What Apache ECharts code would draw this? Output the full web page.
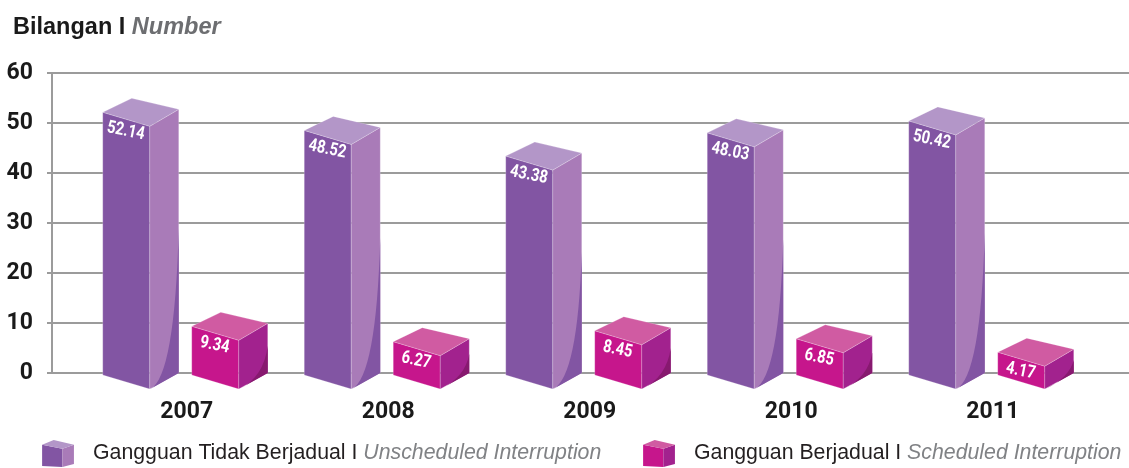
<!DOCTYPE html>
<html>
<head>
<meta charset="utf-8">
<script src="https://cdn.jsdelivr.net/npm/echarts@6/dist/echarts.min.js"></script>
<style>
  html, body { margin: 0; padding: 0; background: #fff; }
  #chart { width: 1129px; height: 468px; }
</style>
</head>
<body>
<div id="chart"></div>
<script>
// data
const years = ['2007', '2008', '2009', '2010', '2011']
const unscheduled = [52.14, 48.52, 43.38, 48.03, 50.42] // Gangguan Tidak Berjadual
const scheduled = [9.34, 6.27, 8.45, 6.85, 4.17] // Gangguan Berjadual
const yMin = 0
const yMax = 60
const yStep = 10

const numFont = 'Roboto, "DejaVu Sans Condensed", sans-serif'
const sans = '"Liberation Sans", Arial, sans-serif'

// box colours: front, side, top, dark curve
const purple = { front: '#8255a3', side: '#a97bb8', top: '#b396c8', dark: '#8255a3' }
const pink = { front: '#c6168c', side: '#a2228e', top: '#d05ba2', dark: '#87196f' }

function cubeSvg(c) {
  const svg = '<svg xmlns="http://www.w3.org/2000/svg" width="34" height="28" viewBox="0 0 34 28">' +
    '<polygon points="0,5 21,9 21,28 0,27" fill="' + c.front + '"/>' +
    '<polygon points="21,9 33,5 33,25 21,28" fill="' + c.side + '"/>' +
    '<polygon points="0,5 12,0 33,5 21,9" fill="' + c.top + '"/>' +
    '</svg>'
  return 'image://data:image/svg+xml;charset=utf-8,' + encodeURIComponent(svg)
}

// 3d box drawn from the category axis + value axis
function boxRenderer(c, shift) {
  return function (params, api) {
    const idx = api.value(0)
    const val = api.value(1)
    const top = api.coord([idx, val])
    const bot = api.coord([idx, 0])
    const x0 = top[0] + shift
    const x1 = x0 + 47
    const x2 = x1 + 29
    const yt = top[1]
    const yb = bot[1]
    const ys = (yt - 3) + 0.45 * (yb - yt + 3)
    const edge = 'rgba(255,255,255,0.35)'
    return {
      type: 'group',
      children: [
        {
          type: 'polygon',
          shape: { points: [[x0, yt], [x1, yt + 14], [x1, yb + 16], [x0, yb + 2]] },
          style: { fill: c.front, stroke: edge, lineWidth: 0.6 }
        },
        {
          type: 'polygon',
          shape: { points: [[x1, yt + 14], [x2, yt - 3], [x2, yb], [x1, yb + 16]] },
          style: { fill: c.side, stroke: edge, lineWidth: 0.6 }
        },
        {
          type: 'path',
          shape: { pathData: 'M' + x2 + ',' + ys + ' Q' + (x2 - 4) + ',' + (yb + 4) + ' ' + (x1 + 0.5) + ',' + (yb + 16) + ' L' + x2 + ',' + yb + ' Z' },
          style: { fill: c.dark }
        },
        {
          type: 'polygon',
          shape: { points: [[x0, yt], [x0 + 29, yt - 14], [x2, yt - 3], [x1, yt + 14]] },
          style: { fill: c.top, stroke: edge, lineWidth: 0.6 }
        },
        {
          type: 'text',
          x: x0 + 23,
          y: yt + 19,
          scaleX: 0.82,
          rotation: -0.2,
          style: {
            text: val.toFixed(2),
            fill: '#fff',
            fontSize: 18,
            fontWeight: 'bold',
            fontFamily: numFont,
            align: 'center',
            verticalAlign: 'middle'
          }
        }
      ]
    }
  }
}

function legendFor(left, name, label, c) {
  return {
    left: left,
    top: 440,
    padding: 0,
    itemWidth: 33,
    itemHeight: 27,
    selectedMode: false,
    data: [{ name: name, icon: cubeSvg(c) }],
    formatter: function () {
      return label
    },
    textStyle: {
      rich: {
        s: { width: 13 },
        a: { fontSize: 21.3, color: '#231f20', fontFamily: sans },
        b: { fontSize: 21.3, fontStyle: 'italic', color: '#808285', fontFamily: sans }
      }
    }
  }
}

const chart = echarts.init(document.getElementById('chart'))
chart.setOption({
  animation: false,
  title: {
    left: 8,
    top: 11,
    text: '{a|Bilangan I }{b|Number}',
    textStyle: {
      rich: {
        a: { fontSize: 23.5, fontWeight: 'bold', color: '#1a1a1a', fontFamily: sans },
        b: { fontSize: 23.5, fontWeight: 'bold', fontStyle: 'italic', color: '#6d6e71', fontFamily: sans }
      }
    }
  },
  legend: [
    legendFor(42, 'Gangguan Tidak Berjadual', '{s|}{a|Gangguan Tidak Berjadual I }{b|Unscheduled Interruption}', purple),
    legendFor(643, 'Gangguan Berjadual', '{s|}{a|Gangguan Berjadual I }{b|Scheduled Interruption}', pink)
  ],
  grid: [
    { left: 52, right: 0, top: 73, bottom: 95 },
    { left: 86, right: 35.5, top: 73, bottom: 95 }
  ],
  xAxis: [
    { gridIndex: 0, type: 'value', show: false },
    {
      gridIndex: 1,
      type: 'category',
      data: years,
      axisLine: { show: false },
      axisTick: { show: false },
      axisLabel: {
        margin: 28,
        color: '#1a1a1a',
        fontSize: 23,
        fontWeight: 'bold',
        fontFamily: numFont
      }
    }
  ],
  yAxis: [
    {
      gridIndex: 0,
      type: 'value',
      min: yMin,
      max: yMax,
      interval: yStep,
      axisLine: { show: true, lineStyle: { color: '#9b9b9b', width: 2 } },
      axisTick: { show: true, length: 5, lineStyle: { color: '#9b9b9b', width: 2 } },
      splitLine: { show: true, lineStyle: { color: '#9b9b9b', width: 2 } },
      axisLabel: {
        margin: 19,
        color: '#1a1a1a',
        fontSize: 23,
        fontWeight: 'bold',
        fontFamily: numFont
      }
    },
    { gridIndex: 1, type: 'value', min: yMin, max: yMax, show: false }
  ],
  series: [
    {
      name: 'Gangguan Tidak Berjadual',
      type: 'custom',
      xAxisIndex: 1,
      yAxisIndex: 1,
      itemStyle: { color: purple.front },
      renderItem: boxRenderer(purple, -84),
      data: unscheduled.map((v, i) => [i, v])
    },
    {
      name: 'Gangguan Berjadual',
      type: 'custom',
      xAxisIndex: 1,
      yAxisIndex: 1,
      itemStyle: { color: pink.front },
      renderItem: boxRenderer(pink, 5),
      data: scheduled.map((v, i) => [i, v])
    }
  ]
})
</script>
</body>
</html>
